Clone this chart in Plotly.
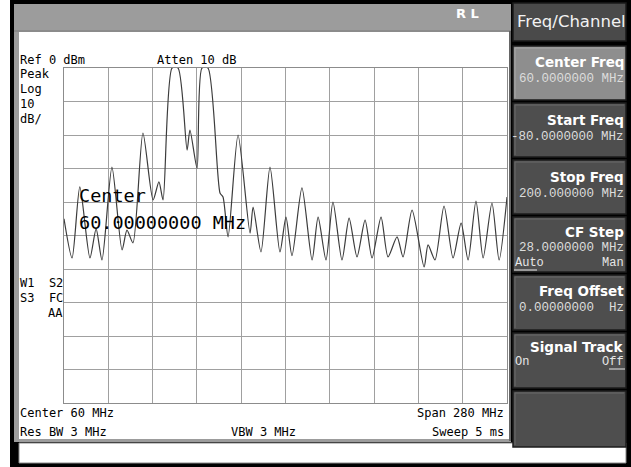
import plotly.graph_objects as go

# Swept spectrum trace (frequency in MHz, level in dBm)
freq_mhz = [-80, -74.9, -70.0, -63.6, -59.7, -56.0, -49.7, -43.3, -40.2, -36.4,
            -30.1, -23.7, -20.0, -17.4, -11.7, -7.9, -2.2, -0.4, 4.1, 7.2,
            11.0, 18.6, 20.5, 23.7, 30.0, 37.6, 39.5, 44.5, 50.2, 56.5,
            60.3, 64.1, 70.4, 76.8, 80.6, 85.6, 90.0, 95.7, 100.2, 105.2,
            110.3, 114.7, 120.4, 124.8, 130.5, 134.3, 140.0, 147.6, 150.1, 154.5,
            160.2, 165.9, 171.0, 175.4, 180.4, 184.9, 190.5, 195.0, 200.0]
level_dbm = [-45.0, -56.7, -35.5, -56.7, -48.0, -57.3, -29.6, -54.3, -48.4, -52.2,
             -19.4, -39.4, -34.0, -39.4, 0.0, 0.0, -24.5, -18.5, -29.9, 0.0,
             0.0, -37.3, -38.5, -50.4, -20.0, -49.3, -41.5, -54.9, -29.6, -54.9,
             -44.5, -56.0, -35.8, -57.3, -44.5, -57.3, -40.0, -57.3, -44.8, -56.4,
             -45.4, -56.7, -44.5, -56.4, -50.4, -56.4, -42.4, -59.4, -52.8, -57.3,
             -41.2, -56.7, -46.3, -57.3, -39.7, -56.7, -40.3, -57.3, -38.5]

start_mhz, stop_mhz = -80, 200
ref_dbm, db_per_div, n_div = 0, 10, 10

W, H = 631, 467
L, R, T, B = 64, 507, 68, 403   # graticule edges in pixels


def px(x):
    return (x - L) / (R - L)


def py(y):
    return (B - y) / (B - T)


shapes = []


def rect(x0, y0, x1, y1, fill, line=None, lw=0):
    shapes.append(dict(type="rect", xref="paper", yref="paper",
                       x0=px(x0), x1=px(x1), y0=py(y1), y1=py(y0),
                       fillcolor=fill, layer="below",
                       line=dict(color=line or fill, width=lw)))


def hline(x0, x1, y, color, lw=1, layer="below"):
    shapes.append(dict(type="line", xref="paper", yref="paper",
                       x0=px(x0), x1=px(x1), y0=py(y), y1=py(y),
                       layer=layer, line=dict(color=color, width=lw)))


def vline(x, y0, y1, color, lw=1):
    shapes.append(dict(type="line", xref="paper", yref="paper",
                       x0=px(x), x1=px(x), y0=py(y0), y1=py(y1),
                       layer="below", line=dict(color=color, width=lw)))


# instrument frame
rect(10, 0, 631, 467, "#000000")
rect(14, 4, 511, 442, "#9c9c9c")
hline(14, 511, 31, "#7a7a7a")
rect(19, 32, 509, 439, "#ffffff")
vline(510, 31, 441, "#555555", 1.5)
rect(19, 443, 626, 463, "#ffffff", "#8a8a8a", 1)

# softkey panel
rect(513, 3, 626, 41, "#4a4a4a", "#1a1a1a", 1.5)
keys = [(46, 100, "#8e8e8e"), (103, 157, "#4e4e4e"), (160, 214, "#4e4e4e"),
        (217, 272, "#4e4e4e"), (275, 330, "#4e4e4e"), (333, 388, "#4e4e4e"),
        (391, 447, "#4e4e4e")]
for y0, y1, c in keys:
    rect(513, y0, 626, y1, c, "#1c1c1c", 1.5)
    hline(515, 624, y0 + 2, "#a8a8a8" if c == "#8e8e8e" else "#6a6a6a", 1)
    vline(515, y0 + 2, y1 - 2, "#a8a8a8" if c == "#8e8e8e" else "#6a6a6a", 1)

# underlines of the selected choices
hline(514, 537, 270, "#e6e6e6", 1, "above")
hline(609, 625, 369, "#e6e6e6", 1, "above")

annotations = []
MONO = "DejaVu Sans Mono"


def text(x, y, s, size=12, color="#000000", anchor="left", family=MONO,
         bold=False):
    annotations.append(dict(xref="paper", yref="paper", x=px(x), y=py(y),
                            text=f"<b>{s}</b>" if bold else s,
                            showarrow=False, xanchor=anchor, yanchor="middle",
                            borderpad=0,
                            font=dict(family=family, size=size, color=color)))


# readouts around the graticule
text(19, 60, "Ref 0 dBm")
text(156, 60, "Atten 10 dB")
text(19, 74, "Peak")
text(19, 89, "Log")
text(19, 104, "10")
text(19, 119, "dB/")
text(64, 283, "W1  S2", anchor="right")
text(64, 298, "S3  FC", anchor="right")
text(64, 313, "AA", anchor="right")
text(19, 413, "Center 60 MHz")
text(19, 432, "Res BW 3 MHz")
text(230, 432, "VBW 3 MHz")
text(505, 413, "Span 280 MHz", anchor="right")
text(505, 432, "Sweep 5 ms", anchor="right")
text(78, 195, "Center", size=18.5)
text(78, 222, "60.00000000 MHz", size=18.5)
text(480, 14, "R L", size=13, color="#ffffff", anchor="right",
     family="DejaVu Sans", bold=True)

# softkey labels
SANS = "DejaVu Sans"
VAL = "Liberation Mono"
text(516, 22, "Freq/Channel", size=16.5, color="#f2f2f2", family=SANS)
key_text = [(62, 79, "Center Freq", "60.0000000 MHz"),
            (120, 137, "Start Freq", "-80.0000000 MHz"),
            (177, 194, "Stop Freq", "200.000000 MHz"),
            (232, 248, "CF Step", "28.0000000 MHz"),
            (291, 308, "Freq Offset", "0.00000000  Hz"),
            (347, None, "Signal Track", None)]
for yl, yv, lab, val in key_text:
    text(625, yl, lab, size=13.5, color="#ffffff", anchor="right",
         family=SANS, bold=True)
    if val:
        text(625, yv, val, size=12.5, color="#dcdcdc", anchor="right",
             family=VAL)
text(514, 263, "Auto", size=12, color="#e6e6e6", family=VAL)
text(625, 263, "Man", size=12, color="#e6e6e6", anchor="right", family=VAL)
text(514, 362, "On", size=12, color="#e6e6e6", family=VAL)
text(625, 362, "Off", size=12, color="#e6e6e6", anchor="right", family=VAL)

fig = go.Figure(go.Scatter(
    x=freq_mhz, y=level_dbm, mode="lines",
    line=dict(color="#3c3c3c", width=1.2, shape="spline", smoothing=0.7),
    hoverinfo="skip"))

axis_common = dict(showticklabels=False, ticks="", showgrid=True,
                   gridcolor="#a0a0a0", gridwidth=1, zeroline=False,
                   showline=True, mirror=True, linecolor="#8c8c8c",
                   linewidth=1, fixedrange=True)
fig.update_xaxes(range=[start_mhz, stop_mhz], tick0=start_mhz,
                 dtick=(stop_mhz - start_mhz) / n_div, **axis_common)
fig.update_yaxes(range=[ref_dbm - db_per_div * n_div, ref_dbm], tick0=0,
                 dtick=db_per_div, **axis_common)

fig.update_layout(width=W, height=H, autosize=False,
                  margin=dict(l=L, r=W - R, t=T, b=H - B, pad=0),
                  paper_bgcolor="#ffffff", plot_bgcolor="#ffffff",
                  showlegend=False, shapes=shapes, annotations=annotations)

fig.write_html("out.html")
